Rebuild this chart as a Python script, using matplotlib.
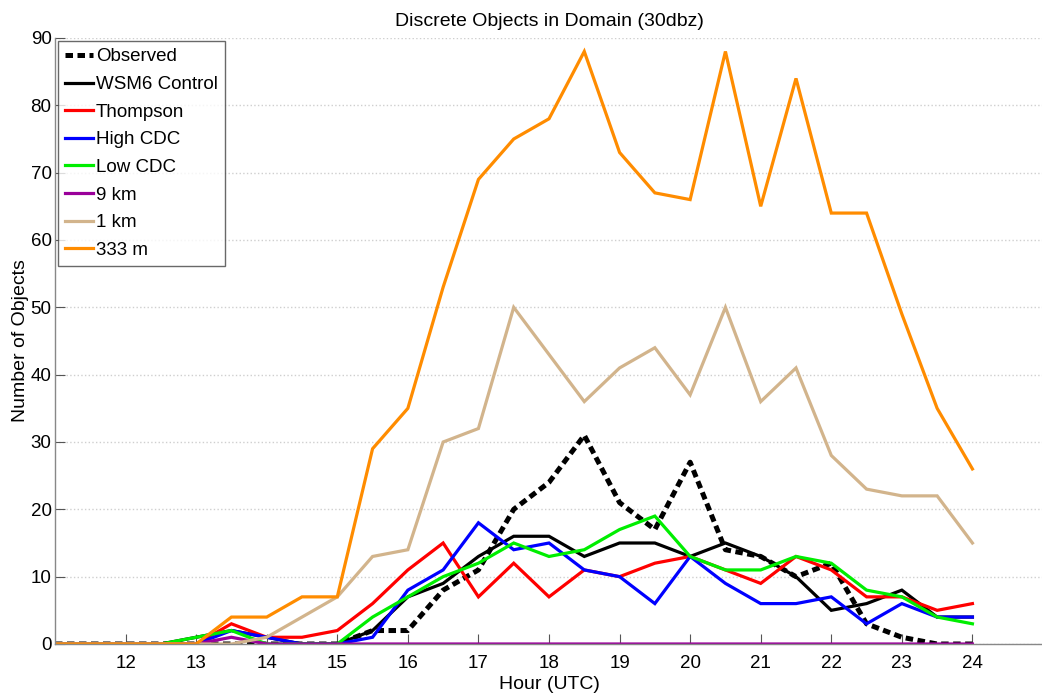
import numpy as np
import matplotlib
matplotlib.use("Agg")
import matplotlib.pyplot as plt

plt.rcParams['font.family'] = ['Liberation Sans', 'DejaVu Sans']

# Half-hourly valid times (UTC)
hours = np.arange(11.0, 24.01, 0.5)

observed = [0, 0, 0, 0, 0, 0, 0, 0, 0, 2, 2, 8, 11, 20, 24, 31, 21, 17, 27,
            14, 13, 10, 12, 3, 1, 0, 0]
wsm6 = [0, 0, 0, 0, 1, 2, 1, 0, 0, 2, 7, 9, 13, 16, 16, 13, 15, 15, 13, 15,
        13, 10, 5, 6, 8, 4, 4]
thompson = [0, 0, 0, 0, 0, 3, 1, 1, 2, 6, 11, 15, 7, 12, 7, 11, 10, 12, 13, 11,
            9, 13, 11, 7, 7, 5, 6]
high_cdc = [0, 0, 0, 0, 0, 2, 1, 0, 0, 1, 8, 11, 18, 14, 15, 11, 10, 6, 13, 9,
            6, 6, 7, 3, 6, 4, 4]
low_cdc = [0, 0, 0, 0, 1, 2, 0, 0, 0, 4, 7, 10, 12, 15, 13, 14, 17, 19, 13, 11,
           11, 13, 12, 8, 7, 4, 3]
nine_km = [0, 0, 0, 0, 0, 1, 0, 0, 0, 0, 0, 0, 0, 0, 0, 0, 0, 0, 0, 0,
           0, 0, 0, 0, 0, 0, 0]
one_km = [0, 0, 0, 0, 0, 0, 1, 4, 7, 13, 14, 30, 32, 50, 43, 36, 41, 44, 37, 50,
          36, 41, 28, 23, 22, 22, 15]
m333 = [0, 0, 0, 0, 0, 4, 4, 7, 7, 29, 35, 53, 69, 75, 78, 88, 73, 67, 66, 88,
        65, 84, 64, 64, 49, 35, 26]

series_labels = ["Observed", "WSM6 Control", "Thompson", "High CDC", "Low CDC",
                 "9 km", "1 km", "333 m"]
series_colors = ["black", "black", "#ff0000", "#0000ff", "#00ee00", "#9a009a",
                 "#d2b48c", "#ff8c00"]
x_ticks = list(range(12, 25))
y_ticks = list(range(0, 91, 10))

fig = plt.figure(figsize=(10.42, 6.96), dpi=100)
ax = fig.add_axes([55 / 1042, 1 - 644 / 696, (1043 - 55) / 1042, (644 - 38) / 696])

all_series = [observed, wsm6, thompson, high_cdc, low_cdc, nine_km, one_km, m333]
for i, (vals, lab, col) in enumerate(zip(all_series, series_labels, series_colors)):
    if i == 0:
        ax.plot(hours, vals, color=col, lw=3.6, linestyle=(0, (1.5, 0.9)),
                label=lab, solid_capstyle='butt', dash_capstyle='butt')
    else:
        ax.plot(hours, vals, color=col, lw=2.3, label=lab,
                solid_joinstyle='miter')

ax.set_xlim(11, 25)
ax.set_ylim(0, 90)
ax.set_xticks(x_ticks)
ax.set_yticks(y_ticks)
ax.tick_params(direction='in', length=7, width=0.8, colors='#555555',
               labelcolor='black', labelsize=13.5)
ax.tick_params(axis='x', pad=8)
ax.tick_params(axis='y', pad=2.5)
ax.yaxis.grid(True, color='#cfcfcf', linestyle=':', linewidth=1.0)
ax.set_axisbelow(True)
for side in ('top', 'right'):
    ax.spines[side].set_visible(False)
for side in ('left', 'bottom'):
    ax.spines[side].set_color('#888888')
    ax.spines[side].set_linewidth(1.0)

ax.set_title("Discrete Objects in Domain (30dbz)", fontsize=14, pad=9)
ax.set_xlabel("Hour (UTC)", fontsize=14, labelpad=3)
ax.set_ylabel("Number of Objects", fontsize=14, labelpad=1)

leg = ax.legend(loc='upper left', fontsize=13.5, frameon=True, fancybox=False,
                borderaxespad=0.15, handlelength=1.5, handletextpad=0.12,
                labelspacing=0.56, borderpad=0.4)
leg.get_frame().set_edgecolor('#444444')
leg.get_frame().set_linewidth(1.0)

fig.savefig("out.png", dpi=100)
